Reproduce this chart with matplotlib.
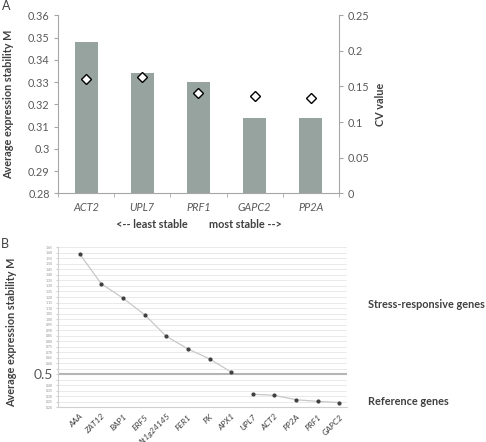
import numpy as np
import matplotlib
matplotlib.use('Agg')
import matplotlib.pyplot as plt

plt.rcParams['font.family'] = ['Lato', 'DejaVu Sans']

# panel A data
genes_a = ['ACT2', 'UPL7', 'PRF1', 'GAPC2', 'PP2A']
m_a = [0.348, 0.334, 0.330, 0.314, 0.314]
cv_a = [0.160, 0.163, 0.141, 0.136, 0.134]

# panel B data
stress_genes = ['AAA', 'ZAT12', 'BAP1', 'ERF5', 'At1g24145', 'FER1', 'PK', 'APX1']
stress_m = [1.59, 1.32, 1.19, 1.04, 0.845, 0.73, 0.64, 0.52]
ref_genes = ['UPL7', 'ACT2', 'PP2A', 'PRF1', 'GAPC2']
ref_m = [0.32, 0.31, 0.27, 0.255, 0.245]

grey = '#595959'
spine = '#a6a6a6'

fig = plt.figure(figsize=(4.86, 4.42), dpi=100)

# ---------- A ----------
ax = fig.add_axes([0.1193, 0.5627, 0.578, 0.4027])
x = np.arange(len(genes_a))
ax.bar(x, np.array(m_a) - 0.28, bottom=0.28, width=0.41, color='#97a39f')
ax.set_ylim(0.28, 0.36)
ax.set_xlim(-0.5, 4.5)
ax.set_yticks(np.arange(0.28, 0.3601, 0.01))
ax.set_yticklabels(['0.28', '0.29', '0.3', '0.31', '0.32', '0.33', '0.34', '0.35', '0.36'])
ax.set_xticks(x)
ax.set_xticklabels(genes_a, style='italic')
ax.set_xticks(np.arange(-0.5, 4.6, 1), minor=True)
ax.tick_params(axis='x', which='major', length=0, pad=6, labelsize=7.8, labelcolor=grey)
ax.tick_params(axis='x', which='minor', length=3, color=spine, direction='out')
ax.tick_params(axis='y', length=3, color=spine, labelsize=7.8, labelcolor=grey, pad=3)
ax.spines['top'].set_visible(False)
ax.spines['right'].set_visible(False)
for s in ['left', 'bottom']:
    ax.spines[s].set_color(spine)
ax.set_ylabel('Average expression stability M', fontsize=7.8, fontweight='bold',
              color='#404040')
ax.yaxis.set_label_coords(-0.158, 0.5)

ax2 = ax.twinx()
ax2.plot(x, cv_a, linestyle='none', marker='D', markersize=4.6,
         markerfacecolor='white', markeredgecolor='black', markeredgewidth=1)
ax2.set_ylim(0, 0.25)
ax2.set_yticks([0, 0.05, 0.1, 0.15, 0.2, 0.25])
ax2.set_yticklabels(['0', '0.05', '0.1', '0.15', '0.2', '0.25'])
ax2.tick_params(axis='y', length=3, color=spine, labelsize=7.8, labelcolor=grey, pad=3)
for s in ['top', 'left', 'bottom']:
    ax2.spines[s].set_visible(False)
ax2.spines['right'].set_color(spine)
ax2.set_ylabel('CV value', fontsize=7.8, fontweight='bold', color='#404040')
ax2.yaxis.set_label_coords(1.13, 0.5)

fig.text(152 / 486, 1 - 225 / 442, '<-- least stable', ha='center', va='center',
         fontsize=7.8, fontweight='bold', color='#404040')
fig.text(245 / 486, 1 - 225 / 442, 'most stable -->', ha='center', va='center',
         fontsize=7.8, fontweight='bold', color='#404040')
fig.text(2 / 486, 1 - 6 / 442, 'A', ha='left', va='center', fontsize=9, color='#404040')

# ---------- B ----------
bx = fig.add_axes([0.1193, 0.0781, 0.5947, 0.3624])
labels_b = stress_genes + ref_genes
xs = np.arange(len(stress_genes))
xr = np.arange(len(stress_genes), len(labels_b))
yt = np.round(np.arange(0.20, 1.6501, 0.05), 2)
for v in yt:
    if abs(v - 0.5) > 1e-6:
        bx.axhline(v, color='#e6e6e6', lw=0.6, zorder=0)
bx.axhline(0.5, color='#b5b5b5', lw=1.5, zorder=1)
bx.plot(xs, stress_m, color='#c8c8c8', lw=0.9, marker='o', markersize=2,
        markerfacecolor='#404040', markeredgecolor='#404040', zorder=3)
bx.plot(xr, ref_m, color='#c8c8c8', lw=0.9, marker='o', markersize=2,
        markerfacecolor='#404040', markeredgecolor='#404040', zorder=3)
bx.set_xlim(-1, 12.35)
bx.set_ylim(0.20, 1.65)
bx.set_yticks(yt)
ylabs = []
for v in yt:
    if abs(v - 0.5) < 1e-6:
        ylabs.append('0.5')
    elif abs(v - 0.45) < 1e-6 or abs(v - 0.55) < 1e-6:
        ylabs.append('')
    else:
        ylabs.append('%.2f' % v)
bx.set_yticklabels(ylabs)
for t, v in zip(bx.get_yticklabels(), yt):
    if abs(v - 0.5) < 1e-6:
        t.set_fontsize(10)
        t.set_color(grey)
    else:
        t.set_fontsize(2.5)
        t.set_color('#909090')
bx.tick_params(axis='y', length=1.5, color='#d0d0d0', pad=2)
bx.set_xticks(np.arange(len(labels_b)))
bx.set_xticklabels(labels_b, rotation=45, ha='right', rotation_mode='anchor',
                   style='italic', fontsize=6, color='#404040')
bx.tick_params(axis='x', length=0, pad=4)
for s in ['top', 'right']:
    bx.spines[s].set_visible(False)
bx.spines['left'].set_color('#d0d0d0')
bx.spines['bottom'].set_color('#d0d0d0')
bx.set_ylabel('Average expression stability M', fontsize=7.8, fontweight='bold',
              color='#404040')
bx.yaxis.set_label_coords(-0.14, 0.47)

fig.text(368 / 486, 1 - 304 / 442, 'Stress-responsive genes', ha='left', va='center',
         fontsize=7.8, fontweight='bold', color='#404040')
fig.text(368 / 486, 1 - 401.5 / 442, 'Reference genes', ha='left', va='center',
         fontsize=7.8, fontweight='bold', color='#404040')
fig.text(1 / 486, 1 - 244 / 442, 'B', ha='left', va='center', fontsize=9, color='#404040')

fig.savefig('out.png', dpi=100)
